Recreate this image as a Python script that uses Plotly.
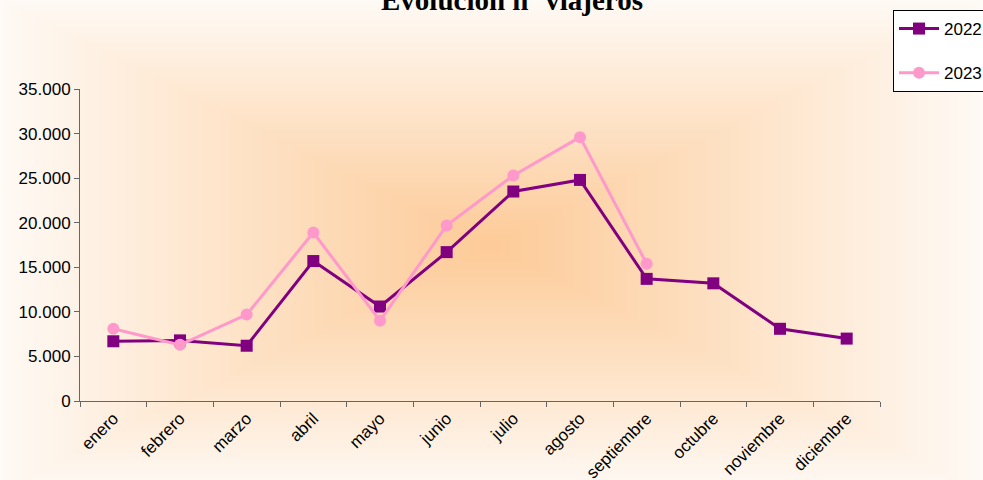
import base64, struct, zlib
import numpy as np
import plotly.graph_objects as go

months = ["enero", "febrero", "marzo", "abril", "mayo", "junio", "julio",
          "agosto", "septiembre", "octubre", "noviembre", "diciembre"]
v2022 = [6700, 6800, 6200, 15700, 10600, 16700, 23500, 24800, 13700, 13200, 8100, 7000]
v2023 = [8100, 6300, 9700, 18900, 9000, 19700, 25300, 29600, 15400, None, None, None]

W, H = 983, 480
L, R, T, B = 80, 103, 89, 79
PW, PH = W - L - R, H - T - B

# rectangular "from center" gradient background
def gradient_png():
    cx, cy = 490, 245
    ys, xs = np.mgrid[0:H, 0:W]
    t = np.maximum(np.abs(xs - cx) / 500.0, np.abs(ys - cy) / 250.0)
    t = np.clip(t, 0, 1)
    c0 = np.array([253, 203, 152], dtype=float)
    c1 = np.array([255, 251, 247], dtype=float)
    img = (c0[None, None, :] + (c1 - c0)[None, None, :] * t[..., None]).astype(np.uint8)
    raw = b"".join(b"\x00" + img[y].tobytes() for y in range(H))
    def chunk(tag, data):
        c = struct.pack(">I", len(data)) + tag + data
        return c + struct.pack(">I", zlib.crc32(tag + data) & 0xffffffff)
    png = b"\x89PNG\r\n\x1a\n"
    png += chunk(b"IHDR", struct.pack(">IIBBBBB", W, H, 8, 2, 0, 0, 0))
    png += chunk(b"IDAT", zlib.compress(raw, 9))
    png += chunk(b"IEND", b"")
    return "data:image/png;base64," + base64.b64encode(png).decode()

fig = go.Figure()
fig.add_trace(go.Scatter(
    x=months, y=v2022, name="2022", mode="lines+markers",
    line=dict(color="#800080", width=3),
    marker=dict(symbol="square", size=12, color="#800080"),
    legendgroup="a"))
fig.add_trace(go.Scatter(
    x=months, y=v2023, name="2023", mode="lines+markers",
    line=dict(color="#FF99CC", width=3),
    marker=dict(symbol="circle", size=12, color="#FF99CC"),
    legendgroup="b"))

fig.add_layout_image(dict(
    source=gradient_png(), xref="paper", yref="paper",
    x=-L / PW, y=1 + T / PH, sizex=W / PW, sizey=H / PH,
    xanchor="left", yanchor="top", sizing="stretch", layer="below"))

fig.add_annotation(
    text="<b>Evolución nº viajeros</b>", xref="paper", yref="paper",
    x=(512 - L) / PW, y=1 + (T - 18) / PH, xanchor="center", yanchor="bottom",
    showarrow=False, font=dict(family="Liberation Serif", size=29, color="black"))

fig.update_layout(
    width=W, height=H,
    margin=dict(l=L, r=R, t=T, b=B, autoexpand=False),
    paper_bgcolor="white", plot_bgcolor="rgba(0,0,0,0)",
    separators=",.",
    font=dict(family="Liberation Sans, Arial", size=17, color="black"),
    showlegend=True,
    legend=dict(x=(893 - L) / PW, y=1 + (T - 10) / PH, xanchor="left", yanchor="top",
                bgcolor="white", bordercolor="black", borderwidth=1,
                tracegroupgap=19, itemwidth=40, font=dict(size=17)),
)
fig.update_xaxes(
    type="category", range=[-0.5, 11.5], showgrid=False, zeroline=False,
    showline=True, linecolor="#666666", linewidth=1,
    ticks="outside", tickson="boundaries", ticklen=5, tickcolor="#666666",
    tickangle=-45, tickfont=dict(size=17))
fig.update_yaxes(
    range=[0, 35000], dtick=5000, tickformat=",d", showgrid=False, zeroline=False,
    showline=True, linecolor="#666666", linewidth=1,
    ticks="outside", ticklen=5, tickcolor="#666666", tickfont=dict(size=17))

fig.write_html("out.html", config={"displayModeBar": False},
               post_script="document.body.style.margin='0';")
